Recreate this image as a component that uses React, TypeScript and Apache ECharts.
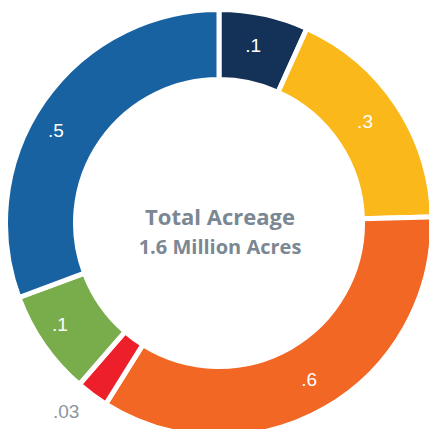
import React, { useEffect, useRef } from "react";
import * as echarts from "echarts";

const categories = ["Navy", "Yellow", "Orange", "Red", "Green", "Blue"];
const values = [0.11, 0.29, 0.56, 0.04, 0.13, 0.5];
const valueLabels = [".1", ".3", ".6", ".03", ".1", ".5"];
const colors = ["#143157", "#fbb81b", "#f26724", "#ec1f2a", "#79ad4c", "#1862a1"];
const labelColors = ["#ffffff", "#ffffff", "#ffffff", "#8a96a0", "#ffffff", "#ffffff"];
const labelOffsets = [[-4, 0], [-5, -1], [0, -1], [-45, 42], [-10, -2], [-14, 11]];
const centerTitle = "Total Acreage";
const centerSubtitle = "1.6 Million Acres";

export default function App() {
  const ref = useRef<HTMLDivElement>(null);
  useEffect(() => {
    if (!ref.current) return;
    const chart = echarts.init(ref.current, null, { renderer: "svg" });
    const data = categories.map((name, i) => ({
      name,
      value: values[i],
      itemStyle: { color: colors[i] },
      label: {
        formatter: valueLabels[i],
        color: labelColors[i],
        offset: labelOffsets[i],
      },
    }));
    chart.setOption({
      animation: false,
      backgroundColor: "#ffffff",
      series: [
        {
          type: "pie",
          center: [219, 223],
          radius: [143.5, 213.5],
          startAngle: 90,
          clockwise: true,
          avoidLabelOverlap: false,
          itemStyle: { borderColor: "#ffffff", borderWidth: 5 },
          label: {
            show: true,
            position: "inside",
            fontFamily: "Liberation Sans",
            fontSize: 19,
            fontWeight: "normal",
          },
          labelLine: { show: false },
          emphasis: { disabled: true },
          data,
        },
      ],
      graphic: [
        {
          type: "text",
          x: 220,
          y: 216,
          style: {
            text: centerTitle,
            fill: "#7b8792",
            font: "bold 22px 'Open Sans'",
            textAlign: "center",
            textVerticalAlign: "middle",
          },
        },
        {
          type: "text",
          x: 220,
          y: 246,
          style: {
            text: centerSubtitle,
            fill: "#7b8792",
            font: "bold 20px 'Open Sans'",
            textAlign: "center",
            textVerticalAlign: "middle",
          },
        },
      ],
    });
    return () => chart.dispose();
  }, []);
  return (
    <div
      ref={ref}
      style={{ position: "fixed", left: 0, top: 0, width: 429, height: 429 }}
    />
  );
}
